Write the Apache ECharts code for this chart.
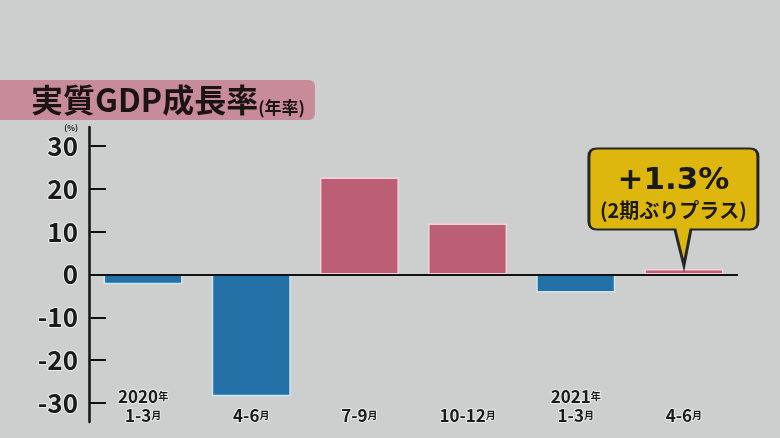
<!DOCTYPE html>
<html>
<head>
<meta charset="utf-8">
<script src="https://cdn.jsdelivr.net/npm/echarts@6/dist/echarts.min.js"></script>
<style>
html,body{margin:0;padding:0;background:#cdcfce;}
#c{width:780px;height:438px;}
</style>
</head>
<body>
<div id="c"></div>
<script>
const categories = ['2020年\n1-3月', '4-6月', '7-9月', '10-12月', '2021年\n1-3月', '4-6月'];
const growth = [-2.3, -28.5, 22.7, 11.9, -4.2, 1.3];
const yTicks = [-30, -20, -10, 0, 10, 20, 30];
const titleMain = '実質GDP成長率';
const titleSub = '(年率)';
const calloutMain = '+1.3%';
const calloutSub = '(2期ぶりプラス)';

const FONT = '"Noto Sans CJK JP", "Noto Sans", sans-serif';
const WIDE = '"DejaVu Sans", "Noto Sans CJK JP", sans-serif';
const POS = '#bc5f75', POS_B = '#f6d3db';
const NEG = '#2371a7', NEG_B = '#cfe5f3';

function fmtCat(v) {
  return v.split('\n').map(function (line) {
    return line.replace(/([0-9\-]+)([年月])/, '{n|$1}{u|$2}');
  }).join('\n');
}

const barData = growth.map(function (v) {
  return {
    value: v,
    itemStyle: {color: v < 0 ? NEG : POS, borderColor: v < 0 ? NEG_B : POS_B, borderWidth: 1.5}
  };
});

const chart = echarts.init(document.getElementById('c'));
chart.setOption({
  backgroundColor: '#cdcfce',
  animation: false,
  title: {
    left: 0, top: 78,
    text: '{a|' + titleMain + '}{b|' + titleSub + '}',
    backgroundColor: '#c88b99',
    borderRadius: [0, 6, 6, 0],
    padding: [4, 10, 4, 31],
    textStyle: {
      rich: {
        a: {fontFamily: FONT, fontWeight: 'bold', fontSize: 32, color: '#1c1414', lineHeight: 34, verticalAlign: 'bottom'},
        b: {fontFamily: FONT, fontWeight: 'bold', fontSize: 17, color: '#1c1414', lineHeight: 30, verticalAlign: 'bottom'}
      }
    }
  },
  grid: {left: 89, right: 42, top: 127, bottom: 16, containLabel: false},
  xAxis: {
    type: 'category',
    data: categories,
    axisLine: {show: false, onZero: false},
    axisTick: {show: false},
    axisLabel: {
      interval: 0,
      margin: 3,
      verticalAlign: 'bottom',
      formatter: fmtCat,
      rich: {
        n: {fontFamily: FONT, fontWeight: 'bold', fontSize: 17, color: '#1a1a1a', lineHeight: 19,
            textBorderColor: 'rgba(255,255,255,0.55)', textBorderWidth: 2},
        u: {fontFamily: FONT, fontWeight: 'bold', fontSize: 10, color: '#1a1a1a', lineHeight: 19,
            textBorderColor: 'rgba(255,255,255,0.55)', textBorderWidth: 2}
      }
    }
  },
  yAxis: {
    type: 'value',
    min: -34.5, max: 34.5,
    name: '(%)',
    nameLocation: 'end',
    nameGap: -1,
    nameTextStyle: {fontFamily: FONT, fontWeight: 'bold', fontSize: 8, color: '#222', align: 'right', verticalAlign: 'middle', padding: [0, 11, 0, 0]},
    splitLine: {show: false},
    axisLine: {show: true, lineStyle: {color: '#111', width: 2.5}},
    axisTick: {show: true, inside: true, length: 17, lineStyle: {color: '#111', width: 2}, customValues: yTicks},
    axisLabel: {
      customValues: yTicks,
      margin: 11,
      fontFamily: FONT, fontWeight: 'bold', fontSize: 26, color: '#1a1a1a',
      textBorderColor: 'rgba(255,255,255,0.6)', textBorderWidth: 2
    }
  },
  series: [{
    type: 'bar',
    data: barData,
    barWidth: 79,
    markLine: {
      silent: true,
      symbol: 'none',
      label: {show: false},
      lineStyle: {color: '#111', width: 2, type: 'solid'},
      data: [{yAxis: 0}]
    },
    markPoint: {
      silent: true,
      symbol: 'path://M8,0 H161 Q169,0 169,8 V73 Q169,81 161,81 H102 L95,117 L86,81 H8 Q0,81 0,73 V8 Q0,0 8,0 Z',
      symbolSize: [169, 117],
      symbolKeepAspect: false,
      symbolOffset: [-10.5, -62],
      itemStyle: {color: '#ddb70e', borderColor: '#262626', borderWidth: 2.5},
      label: {
        show: true,
        position: 'inside',
        offset: [0, -13],
        formatter: '{m|' + calloutMain + '}\n{s|' + calloutSub + '}',
        rich: {
          m: {fontFamily: WIDE, fontWeight: 'bold', fontSize: 31, color: '#1a1a1a', lineHeight: 33, align: 'center'},
          s: {fontFamily: FONT, fontWeight: 'bold', fontSize: 20, color: '#1a1a1a', lineHeight: 26, align: 'center'}
        }
      },
      data: [{coord: [5, growth[5]]}]
    }
  }]
});
</script>
</body>
</html>
